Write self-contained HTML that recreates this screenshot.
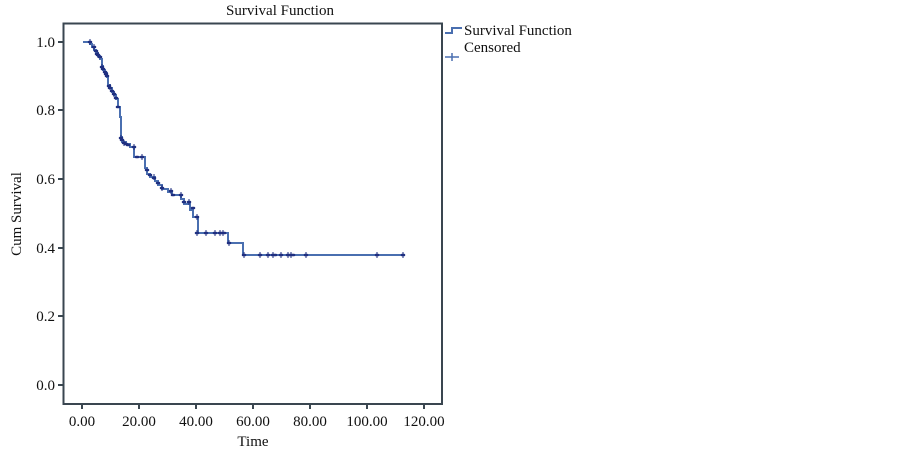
<!DOCTYPE html>
<html><head><meta charset="utf-8"><style>
html,body{margin:0;padding:0;background:#fff;}
svg{display:block;}
text{font-family:"Liberation Serif",serif;fill:#111;}
</style></head><body>
<svg width="902" height="451" viewBox="0 0 902 451">
<text x="280" y="15" font-size="15" text-anchor="middle">Survival Function</text>
<rect x="63.5" y="23.5" width="378.5" height="380.5" fill="none" stroke="#3a4650" stroke-width="2"/>
<g stroke="#3a4650" stroke-width="2">
<line x1="58" y1="42" x2="63" y2="42"/><line x1="58" y1="110" x2="63" y2="110"/>
<line x1="58" y1="179" x2="63" y2="179"/><line x1="58" y1="248" x2="63" y2="248"/>
<line x1="58" y1="316" x2="63" y2="316"/><line x1="58" y1="385" x2="63" y2="385"/>
<line x1="82" y1="404" x2="82" y2="409"/><line x1="139" y1="404" x2="139" y2="409"/>
<line x1="196" y1="404" x2="196" y2="409"/><line x1="253" y1="404" x2="253" y2="409"/>
<line x1="310" y1="404" x2="310" y2="409"/><line x1="367" y1="404" x2="367" y2="409"/>
<line x1="424" y1="404" x2="424" y2="409"/>
</g>
<g font-size="15" text-anchor="end">
<text x="55" y="47">1.0</text><text x="55" y="115">0.8</text><text x="55" y="184">0.6</text>
<text x="55" y="253">0.4</text><text x="55" y="321">0.2</text><text x="55" y="390">0.0</text>
</g>
<g font-size="15" text-anchor="middle">
<text x="82" y="426">0.00</text><text x="139" y="426">20.00</text><text x="196" y="426">40.00</text>
<text x="253" y="426">60.00</text><text x="310" y="426">80.00</text><text x="367" y="426">100.00</text>
<text x="424" y="426">120.00</text>
<text x="253" y="446">Time</text>
</g>
<text font-size="15" text-anchor="middle" transform="translate(21,214) rotate(-90)">Cum Survival</text>
<path d="M83 42 H90 V44 H92 V47 H94 V50 H96 V53 H98 V56 H100 V59 H102 V66 H103 V70 H105 V73 H107 V77 H108 V85 H110 V88 H112 V92 H114 V95 H116 V99 H118 V107 H120 V117 H121 V137 H122 V142 H126 V144 H130 V147 H134 V157 H145 V168 H147 V174 H150 V177 H155 V181 H158 V185 H162 V189 H168 V192 H172 V195 H181 V199 H184 V204 H190 V210 H193 V217 H198 V233 H228 V243 H243 V255 H403" fill="none" stroke="#4a6fb0" stroke-width="2"/>
<g fill="#1f2f80">
<g id="m"></g>
</g>
<g stroke="#1f2f80" stroke-width="2.5" stroke-linecap="round">
<path d="M89 42h2 M93 47h2 M95 51h2 M96 54h2 M97 55h2 M99 57h2 M101 67h2 M102 69h2 M104 72h2 M105 74h2 M106 76h2 M108 86h2 M109 88h2 M111 91h2 M113 94h2 M115 98h2 M117 107h2 M120 138h2 M121 140h2 M123 143h2 M125 144h2 M127 145h2 M133 147h2 M136 157h2 M141 157h2 M146 170h2 M149 175h2 M153 178h2 M157 183h2 M161 188h2 M170 191h2 M172 195h2 M180 195h2 M183 202h2 M188 202h2 M192 208h2 M196 217h2 M196 233h2 M205 233h2 M214 233h2 M219 233h2 M221 233h2 M223 233h2 M228 243h2 M243 255h2 M259 255h2 M267 255h2 M272 255h2 M274 255h2 M280 255h2 M287 255h2 M290 255h2 M292 255h2 M305 255h2 M376 255h2 M402 255h2"/>
</g>
<g stroke="#1f2f80" stroke-width="1">
<path d="M90 39v6 M94 44v6 M98 52v6 M102 64v6 M106 71v6 M110 84v6 M114 91v6 M121 135v6 M124 140v6 M134 144v6 M142 154v6 M154 174v6 M162 185v6 M171 188v6 M181 192v6 M189 199v6 M197 214v6 M197 230v6 M206 230v6 M215 230v6 M220 230v6 M223 230v6 M229 240v6 M244 252v6 M260 252v6 M268 252v6 M273 252v6 M281 252v6 M288 252v6 M291 252v6 M306 252v6 M377 252v6 M403 252v6"/>
</g>
<path d="M445 33 H452 V28 H462" fill="none" stroke="#4a6fb0" stroke-width="2"/>
<path d="M445 57 H459 M452 53 V61" stroke="#4a6fb0" stroke-width="1.5"/>
<text x="464" y="35" font-size="15">Survival Function</text>
<text x="464" y="52" font-size="15">Censored</text>
</svg>
</body></html>
